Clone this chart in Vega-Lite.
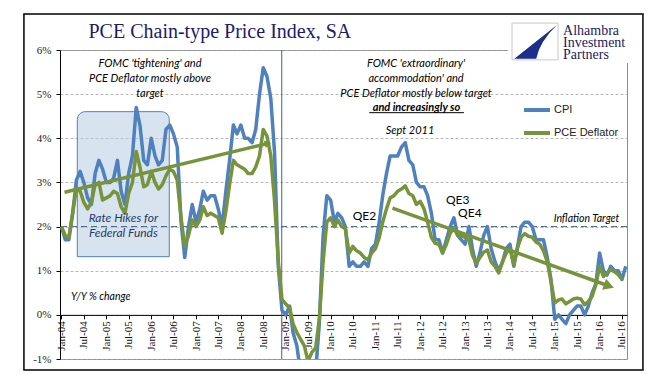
{
"$schema":"https://vega.github.io/schema/vega-lite/v6.json",
"width":567,"height":309,
"autosize":{"type":"none"},
"padding":{"left":60,"top":50,"right":44,"bottom":16},
"background":"white",
"datasets":{
"series":[
{"date":"2004-01","CPI":2.0,"PCE Deflator":2.0},{"date":"2004-02","CPI":1.7,"PCE Deflator":1.8},{"date":"2004-03","CPI":1.7,"PCE Deflator":1.75},{"date":"2004-04","CPI":2.3,"PCE Deflator":2.3},{"date":"2004-05","CPI":3.05,"PCE Deflator":2.85},{"date":"2004-06","CPI":3.25,"PCE Deflator":2.8},{"date":"2004-07","CPI":3.0,"PCE Deflator":2.55},{"date":"2004-08","CPI":2.65,"PCE Deflator":2.4},{"date":"2004-09","CPI":2.5,"PCE Deflator":2.55},{"date":"2004-10","CPI":3.2,"PCE Deflator":2.95},{"date":"2004-11","CPI":3.5,"PCE Deflator":3.0},{"date":"2004-12","CPI":3.3,"PCE Deflator":2.6},
{"date":"2005-01","CPI":3.0,"PCE Deflator":2.65},{"date":"2005-02","CPI":3.0,"PCE Deflator":2.7},{"date":"2005-03","CPI":3.1,"PCE Deflator":2.8},{"date":"2005-04","CPI":3.5,"PCE Deflator":2.75},{"date":"2005-05","CPI":2.8,"PCE Deflator":2.45},{"date":"2005-06","CPI":2.5,"PCE Deflator":2.3},{"date":"2005-07","CPI":3.2,"PCE Deflator":2.75},{"date":"2005-08","CPI":3.6,"PCE Deflator":3.0},{"date":"2005-09","CPI":4.7,"PCE Deflator":3.7},{"date":"2005-10","CPI":4.3,"PCE Deflator":3.35},{"date":"2005-11","CPI":3.5,"PCE Deflator":2.9},{"date":"2005-12","CPI":3.4,"PCE Deflator":2.95},
{"date":"2006-01","CPI":4.0,"PCE Deflator":3.25},{"date":"2006-02","CPI":3.6,"PCE Deflator":3.0},{"date":"2006-03","CPI":3.4,"PCE Deflator":2.85},{"date":"2006-04","CPI":3.5,"PCE Deflator":2.95},{"date":"2006-05","CPI":4.2,"PCE Deflator":3.15},{"date":"2006-06","CPI":4.3,"PCE Deflator":3.3},{"date":"2006-07","CPI":4.1,"PCE Deflator":3.25},{"date":"2006-08","CPI":3.8,"PCE Deflator":3.05},{"date":"2006-09","CPI":2.1,"PCE Deflator":2.2},{"date":"2006-10","CPI":1.3,"PCE Deflator":1.55},{"date":"2006-11","CPI":2.0,"PCE Deflator":1.8},{"date":"2006-12","CPI":2.5,"PCE Deflator":2.15},
{"date":"2007-01","CPI":2.1,"PCE Deflator":2.0},{"date":"2007-02","CPI":2.4,"PCE Deflator":2.15},{"date":"2007-03","CPI":2.8,"PCE Deflator":2.45},{"date":"2007-04","CPI":2.6,"PCE Deflator":2.25},{"date":"2007-05","CPI":2.7,"PCE Deflator":2.3},{"date":"2007-06","CPI":2.7,"PCE Deflator":2.25},{"date":"2007-07","CPI":2.4,"PCE Deflator":2.2},{"date":"2007-08","CPI":2.0,"PCE Deflator":1.85},{"date":"2007-09","CPI":2.8,"PCE Deflator":2.35},{"date":"2007-10","CPI":3.5,"PCE Deflator":2.95},{"date":"2007-11","CPI":4.3,"PCE Deflator":3.5},{"date":"2007-12","CPI":4.1,"PCE Deflator":3.4},
{"date":"2008-01","CPI":4.3,"PCE Deflator":3.35},{"date":"2008-02","CPI":4.0,"PCE Deflator":3.3},{"date":"2008-03","CPI":4.0,"PCE Deflator":3.2},{"date":"2008-04","CPI":3.9,"PCE Deflator":3.2},{"date":"2008-05","CPI":4.2,"PCE Deflator":3.35},{"date":"2008-06","CPI":5.0,"PCE Deflator":3.6},{"date":"2008-07","CPI":5.6,"PCE Deflator":4.2},{"date":"2008-08","CPI":5.4,"PCE Deflator":4.05},{"date":"2008-09","CPI":4.9,"PCE Deflator":3.6},{"date":"2008-10","CPI":3.7,"PCE Deflator":2.6},{"date":"2008-11","CPI":1.1,"PCE Deflator":1.2},{"date":"2008-12","CPI":0.1,"PCE Deflator":0.35},
{"date":"2009-01","CPI":0.0,"PCE Deflator":0.25},{"date":"2009-02","CPI":0.2,"PCE Deflator":0.15},{"date":"2009-03","CPI":-0.4,"PCE Deflator":-0.2},{"date":"2009-04","CPI":-0.7,"PCE Deflator":-0.4},{"date":"2009-05","CPI":-1.3,"PCE Deflator":-0.55},{"date":"2009-06","CPI":-1.4,"PCE Deflator":-0.7},{"date":"2009-07","CPI":-2.1,"PCE Deflator":-1.05},{"date":"2009-08","CPI":-1.5,"PCE Deflator":-0.85},{"date":"2009-09","CPI":-1.3,"PCE Deflator":-0.75},{"date":"2009-10","CPI":-0.2,"PCE Deflator":-0.1},{"date":"2009-11","CPI":1.8,"PCE Deflator":1.2},{"date":"2009-12","CPI":2.7,"PCE Deflator":2.1},
{"date":"2010-01","CPI":2.6,"PCE Deflator":2.2},{"date":"2010-02","CPI":2.1,"PCE Deflator":2.0},{"date":"2010-03","CPI":2.3,"PCE Deflator":2.15},{"date":"2010-04","CPI":2.2,"PCE Deflator":2.0},{"date":"2010-05","CPI":2.0,"PCE Deflator":1.95},{"date":"2010-06","CPI":1.1,"PCE Deflator":1.4},{"date":"2010-07","CPI":1.2,"PCE Deflator":1.55},{"date":"2010-08","CPI":1.1,"PCE Deflator":1.45},{"date":"2010-09","CPI":1.1,"PCE Deflator":1.4},{"date":"2010-10","CPI":1.2,"PCE Deflator":1.3},{"date":"2010-11","CPI":1.1,"PCE Deflator":1.25},{"date":"2010-12","CPI":1.5,"PCE Deflator":1.4},
{"date":"2011-01","CPI":1.6,"PCE Deflator":1.5},{"date":"2011-02","CPI":2.1,"PCE Deflator":1.75},{"date":"2011-03","CPI":2.7,"PCE Deflator":2.1},{"date":"2011-04","CPI":3.2,"PCE Deflator":2.4},{"date":"2011-05","CPI":3.6,"PCE Deflator":2.65},{"date":"2011-06","CPI":3.6,"PCE Deflator":2.7},{"date":"2011-07","CPI":3.6,"PCE Deflator":2.8},{"date":"2011-08","CPI":3.8,"PCE Deflator":2.85},{"date":"2011-09","CPI":3.9,"PCE Deflator":2.92},{"date":"2011-10","CPI":3.5,"PCE Deflator":2.75},{"date":"2011-11","CPI":3.4,"PCE Deflator":2.7},{"date":"2011-12","CPI":3.0,"PCE Deflator":2.5},
{"date":"2012-01","CPI":2.9,"PCE Deflator":2.57},{"date":"2012-02","CPI":2.9,"PCE Deflator":2.4},{"date":"2012-03","CPI":2.7,"PCE Deflator":2.1},{"date":"2012-04","CPI":2.3,"PCE Deflator":1.75},{"date":"2012-05","CPI":1.7,"PCE Deflator":1.62},{"date":"2012-06","CPI":1.7,"PCE Deflator":1.6},{"date":"2012-07","CPI":1.4,"PCE Deflator":1.4},{"date":"2012-08","CPI":1.7,"PCE Deflator":1.6},{"date":"2012-09","CPI":2.0,"PCE Deflator":1.85},{"date":"2012-10","CPI":2.2,"PCE Deflator":1.97},{"date":"2012-11","CPI":1.8,"PCE Deflator":1.8},{"date":"2012-12","CPI":1.7,"PCE Deflator":1.8},
{"date":"2013-01","CPI":1.6,"PCE Deflator":1.75},{"date":"2013-02","CPI":2.0,"PCE Deflator":1.7},{"date":"2013-03","CPI":1.5,"PCE Deflator":1.35},{"date":"2013-04","CPI":1.1,"PCE Deflator":1.17},{"date":"2013-05","CPI":1.4,"PCE Deflator":1.3},{"date":"2013-06","CPI":1.8,"PCE Deflator":1.42},{"date":"2013-07","CPI":2.0,"PCE Deflator":1.47},{"date":"2013-08","CPI":1.5,"PCE Deflator":1.2},{"date":"2013-09","CPI":1.2,"PCE Deflator":1.1},{"date":"2013-10","CPI":1.0,"PCE Deflator":0.95},{"date":"2013-11","CPI":1.2,"PCE Deflator":1.2},{"date":"2013-12","CPI":1.5,"PCE Deflator":1.4},
{"date":"2014-01","CPI":1.6,"PCE Deflator":1.5},{"date":"2014-02","CPI":1.1,"PCE Deflator":1.13},{"date":"2014-03","CPI":1.5,"PCE Deflator":1.5},{"date":"2014-04","CPI":2.0,"PCE Deflator":1.75},{"date":"2014-05","CPI":2.1,"PCE Deflator":1.84},{"date":"2014-06","CPI":2.1,"PCE Deflator":1.78},{"date":"2014-07","CPI":2.0,"PCE Deflator":1.76},{"date":"2014-08","CPI":1.7,"PCE Deflator":1.65},{"date":"2014-09","CPI":1.7,"PCE Deflator":1.6},{"date":"2014-10","CPI":1.7,"PCE Deflator":1.45},{"date":"2014-11","CPI":1.3,"PCE Deflator":1.2},{"date":"2014-12","CPI":0.8,"PCE Deflator":0.75},
{"date":"2015-01","CPI":-0.1,"PCE Deflator":0.27},{"date":"2015-02","CPI":0.0,"PCE Deflator":0.34},{"date":"2015-03","CPI":-0.1,"PCE Deflator":0.36},{"date":"2015-04","CPI":-0.2,"PCE Deflator":0.25},{"date":"2015-05","CPI":0.0,"PCE Deflator":0.3},{"date":"2015-06","CPI":0.1,"PCE Deflator":0.36},{"date":"2015-07","CPI":0.2,"PCE Deflator":0.38},{"date":"2015-08","CPI":0.2,"PCE Deflator":0.36},{"date":"2015-09","CPI":0.0,"PCE Deflator":0.23},{"date":"2015-10","CPI":0.2,"PCE Deflator":0.3},{"date":"2015-11","CPI":0.5,"PCE Deflator":0.42},{"date":"2015-12","CPI":0.7,"PCE Deflator":0.68},
{"date":"2016-01","CPI":1.4,"PCE Deflator":1.1},{"date":"2016-02","CPI":1.0,"PCE Deflator":0.87},{"date":"2016-03","CPI":0.9,"PCE Deflator":0.95},{"date":"2016-04","CPI":1.1,"PCE Deflator":1.02},{"date":"2016-05","CPI":1.0,"PCE Deflator":0.98},{"date":"2016-06","CPI":1.0,"PCE Deflator":0.91},{"date":"2016-07","CPI":0.8,"PCE Deflator":0.8},{"date":"2016-08","CPI":1.1}
],
"ratebox":[{"date":"2004-05-09","date2":"2006-05-28","pct":1.318,"pct2":4.603}],
"target":[{"pct":2}],
"divider":[{"date":"2008-11-29"}],
"underline":[{"date":"2010-11-12","date2":"2012-12-22","pct":4.58}],
"trend":[{"arrow":"a","date":"2004-01-26","pct":2.777},{"arrow":"a","date":"2008-08-25","pct":3.894},{"arrow":"b","date":"2011-05-20","pct":2.42},{"arrow":"b","date":"2016-03-17","pct":0.654}],
"heads":[{"arrow":"a","date":"2008-08-09","pct":3.883},{"arrow":"b","date":"2016-03-17","pct":0.654}],
"shapes":[{"kind":"frame","date":"2010-01-24","pct":2.783},{"kind":"patch","date":"2015-06-07","pct":6.238},{"kind":"logobox","date":"2014-07-24","pct":6.193},{"kind":"swoosh","date":"2014-07-24","pct":6.193}],
"notes":[
{"kind":"title","text":"PCE Chain-type Price Index, SA","date":"2004-08-08","pct":6.265},
{"kind":"note","text":"FOMC 'tightening' and","date":"2005-12-22","pct":5.683},
{"kind":"note","text":"PCE Deflator mostly above","date":"2005-12-22","pct":5.343},
{"kind":"note","text":"target","date":"2005-12-22","pct":5.003},
{"kind":"note","text":"FOMC 'extraordinary'","date":"2011-11-28","pct":5.683},
{"kind":"note","text":"accommodation' and","date":"2011-11-28","pct":5.343},
{"kind":"note","text":"PCE Deflator mostly below target","date":"2011-11-28","pct":5.003},
{"kind":"note","text":"Sept 2011","date":"2011-10-10","pct":4.165},
{"kind":"emph","text":"and increasingly so","date":"2011-12-01","pct":4.686},
{"kind":"rate","text":"Rate Hikes for","date":"2005-05-19","pct":2.188},
{"kind":"rate","text":"Federal Funds","date":"2005-05-19","pct":1.848},
{"kind":"yy","text":"Y/Y % change","date":"2004-03-18","pct":0.405},
{"kind":"qe","text":"QE2","date":"2010-10-04","pct":2.24},
{"kind":"qe","text":"QE3","date":"2012-11-01","pct":2.6},
{"kind":"qe","text":"QE4","date":"2013-02-08","pct":2.3},
{"kind":"target","text":"Inflation Target","date":"2015-09-16","pct":2.17},
{"kind":"logo","text":"Alhambra","date":"2015-03-09","pct":6.43},
{"kind":"logo","text":"Investment","date":"2015-03-09","pct":6.16},
{"kind":"logo","text":"Partners","date":"2015-03-09","pct":5.89}
]
},
"layer":[
{"data":{"name":"ratebox"},
 "mark":{"type":"rect","fill":"#b8cce4","fillOpacity":0.55,"stroke":"#4f81bd","strokeWidth":1,"cornerRadiusTopLeft":8,"cornerRadiusTopRight":8},
 "encoding":{"x":{"field":"date","type":"temporal","title":null},"x2":{"field":"date2"},"y":{"field":"pct","type":"quantitative","title":null},"y2":{"field":"pct2"}}},
{"data":{"name":"target"},
 "mark":{"type":"rule","color":"#4a6583","strokeWidth":1,"strokeDash":[6,4]},
 "encoding":{"y":{"field":"pct","type":"quantitative","title":null}}},
{"data":{"name":"divider"},
 "mark":{"type":"rule","color":"#3f6288","strokeWidth":1},
 "encoding":{"x":{"field":"date","type":"temporal","title":null}}},
{"data":{"name":"series"},
 "transform":[{"fold":["CPI","PCE Deflator"],"as":["series","pct"]},{"filter":"isValid(datum.pct)"}],
 "mark":{"type":"line","strokeWidth":3.5,"clip":true,"strokeJoin":"round"},
 "encoding":{
  "x":{"field":"date","type":"temporal","title":null,"scale":{"domain":[{"year":2003,"month":12,"date":20,"utc":true},{"year":2016,"month":8,"date":11,"utc":true}]},
   "axis":{"title":null,"orient":"bottom","offset":-44.14,"tickCount":{"interval":"month","step":6},"format":"%b-%y","labelAngle":270,"labelFont":"Liberation Serif","labelFontSize":11,"labelColor":"#111","tickSize":4,"tickColor":"#000","domainColor":"#000","grid":false,"labelPadding":2,"labelOverlap":false,"labelFlush":false,"labelBound":false}},
  "y":{"field":"pct","type":"quantitative","title":null,"scale":{"domain":[-1,6],"nice":false},
   "axis":{"title":null,"values":[-1,0,1,2,3,4,5,6],"labelExpr":"datum.value + '%'","grid":true,"gridDash":[3,2],"gridColor":"#a6a6a6","gridWidth":0.8,"domainColor":"#000","tickColor":"#000","tickSize":4,"labelFont":"Liberation Serif","labelFontSize":11,"labelColor":"#222","labelPadding":5}},
  "color":{"field":"series","type":"nominal","scale":{"domain":["CPI","PCE Deflator"],"range":["#4f81bd","#77933c"]},
   "legend":{"orient":"none","legendX":462,"legendY":45,"title":null,"symbolType":"stroke","symbolSize":676,"symbolStrokeWidth":4,"rowPadding":-6,"labelFont":"Liberation Sans","labelFontSize":11,"labelColor":"#222","labelOffset":2,"padding":0}}}},
{"data":{"name":"trend"},
 "mark":{"type":"line","color":"#77933c","strokeWidth":3.5},
 "encoding":{"x":{"field":"date","type":"temporal","title":null},"y":{"field":"pct","type":"quantitative","title":null},"detail":{"field":"arrow"}}},
{"data":{"name":"heads"},"transform":[{"filter":"datum.arrow == 'a'"}],
 "mark":{"type":"point","shape":"triangle-right","size":60,"angle":-13.5,"filled":true,"color":"#77933c","opacity":1},
 "encoding":{"x":{"field":"date","type":"temporal","title":null},"y":{"field":"pct","type":"quantitative","title":null}}},
{"data":{"name":"heads"},"transform":[{"filter":"datum.arrow == 'b'"}],
 "mark":{"type":"point","shape":"triangle-right","size":140,"angle":19.7,"filled":true,"color":"#77933c","opacity":1},
 "encoding":{"x":{"field":"date","type":"temporal","title":null},"y":{"field":"pct","type":"quantitative","title":null}}},
{"data":{"name":"underline"},
 "mark":{"type":"rule","color":"#000","strokeWidth":1},
 "encoding":{"x":{"field":"date","type":"temporal","title":null},"x2":{"field":"date2"},"y":{"field":"pct","type":"quantitative","title":null}}},
{"data":{"name":"notes"},"transform":[{"filter":"datum.kind == 'note'"}],
 "mark":{"type":"text","font":"Lato","fontSize":11,"fontStyle":"italic","color":"#000","align":"center","baseline":"middle"},
 "encoding":{"x":{"field":"date","type":"temporal","title":null},"y":{"field":"pct","type":"quantitative","title":null},"text":{"field":"text"}}},
{"data":{"name":"notes"},"transform":[{"filter":"datum.kind == 'emph'"}],
 "mark":{"type":"text","font":"Lato","fontSize":11,"fontStyle":"italic","fontWeight":"bold","color":"#000","align":"center","baseline":"middle"},
 "encoding":{"x":{"field":"date","type":"temporal","title":null},"y":{"field":"pct","type":"quantitative","title":null},"text":{"field":"text"}}},
{"data":{"name":"notes"},"transform":[{"filter":"datum.kind == 'rate'"}],
 "mark":{"type":"text","font":"Lato","fontSize":12,"fontStyle":"italic","color":"#1f3b63","align":"center","baseline":"middle"},
 "encoding":{"x":{"field":"date","type":"temporal","title":null},"y":{"field":"pct","type":"quantitative","title":null},"text":{"field":"text"}}},
{"data":{"name":"notes"},"transform":[{"filter":"datum.kind == 'yy'"}],
 "mark":{"type":"text","font":"Lato","fontSize":10.5,"fontStyle":"italic","color":"#000","align":"left","baseline":"middle"},
 "encoding":{"x":{"field":"date","type":"temporal","title":null},"y":{"field":"pct","type":"quantitative","title":null},"text":{"field":"text"}}},
{"data":{"name":"notes"},"transform":[{"filter":"datum.kind == 'target'"}],
 "mark":{"type":"text","font":"Lato","fontSize":10.5,"fontStyle":"italic","color":"#000","align":"center","baseline":"middle"},
 "encoding":{"x":{"field":"date","type":"temporal","title":null},"y":{"field":"pct","type":"quantitative","title":null},"text":{"field":"text"}}},
{"data":{"name":"notes"},"transform":[{"filter":"datum.kind == 'qe'"}],
 "mark":{"type":"text","font":"Lato","fontSize":12,"color":"#000","align":"center","baseline":"middle"},
 "encoding":{"x":{"field":"date","type":"temporal","title":null},"y":{"field":"pct","type":"quantitative","title":null},"text":{"field":"text"}}},
{"data":{"name":"shapes"},"transform":[{"filter":"datum.kind == 'patch'"}],
 "mark":{"type":"point","shape":"M -1 -0.356 L 1 -0.356 L 1 0.356 L -1 0.356 Z","size":17424,"filled":true,"color":"white","opacity":1,"strokeWidth":0},
 "encoding":{"x":{"field":"date","type":"temporal","title":null},"y":{"field":"pct","type":"quantitative","title":null}}},
{"data":{"name":"shapes"},"transform":[{"filter":"datum.kind == 'logobox'"}],
 "mark":{"type":"point","shape":"M -1 -0.8 L 1 -0.8 L 1 0.8 L -1 0.8 Z","size":2116,"filled":false,"stroke":"#c8c8c8","strokeWidth":1,"opacity":1},
 "encoding":{"x":{"field":"date","type":"temporal","title":null},"y":{"field":"pct","type":"quantitative","title":null}}},
{"data":{"name":"shapes"},"transform":[{"filter":"datum.kind == 'swoosh'"}],
 "mark":{"type":"point","shape":"M 0.95 -0.72 L -0.9 0.75 L 0.05 0.75 Q 0.2 0.0 0.95 -0.72 Z","size":2116,"filled":true,"color":"#1c2f8c","opacity":1,"strokeWidth":0},
 "encoding":{"x":{"field":"date","type":"temporal","title":null},"y":{"field":"pct","type":"quantitative","title":null}}},
{"data":{"name":"notes"},"transform":[{"filter":"datum.kind == 'logo'"}],
 "mark":{"type":"text","font":"Liberation Serif","fontSize":14,"color":"#1b1b5e","align":"left","baseline":"middle"},
 "encoding":{"x":{"field":"date","type":"temporal","title":null},"y":{"field":"pct","type":"quantitative","title":null},"text":{"field":"text"}}},
{"data":{"name":"notes"},"transform":[{"filter":"datum.kind == 'title'"}],
 "mark":{"type":"text","font":"Liberation Serif","fontSize":20,"color":"#1b1b6f","align":"left","baseline":"alphabetic"},
 "encoding":{"x":{"field":"date","type":"temporal","title":null},"y":{"field":"pct","type":"quantitative","title":null},"text":{"field":"text"}}},
{"data":{"name":"shapes"},"transform":[{"filter":"datum.kind == 'frame'"}],
 "mark":{"type":"point","shape":"M -1 -0.5751 L 1 -0.5751 L 1 0.5751 L -1 0.5751 Z","size":383161,"filled":false,"stroke":"#000","strokeWidth":1.5,"opacity":1},
 "encoding":{"x":{"field":"date","type":"temporal","title":null},"y":{"field":"pct","type":"quantitative","title":null}}}
],
"config":{"view":{"stroke":"#8c8c8c","strokeWidth":1}}
}
